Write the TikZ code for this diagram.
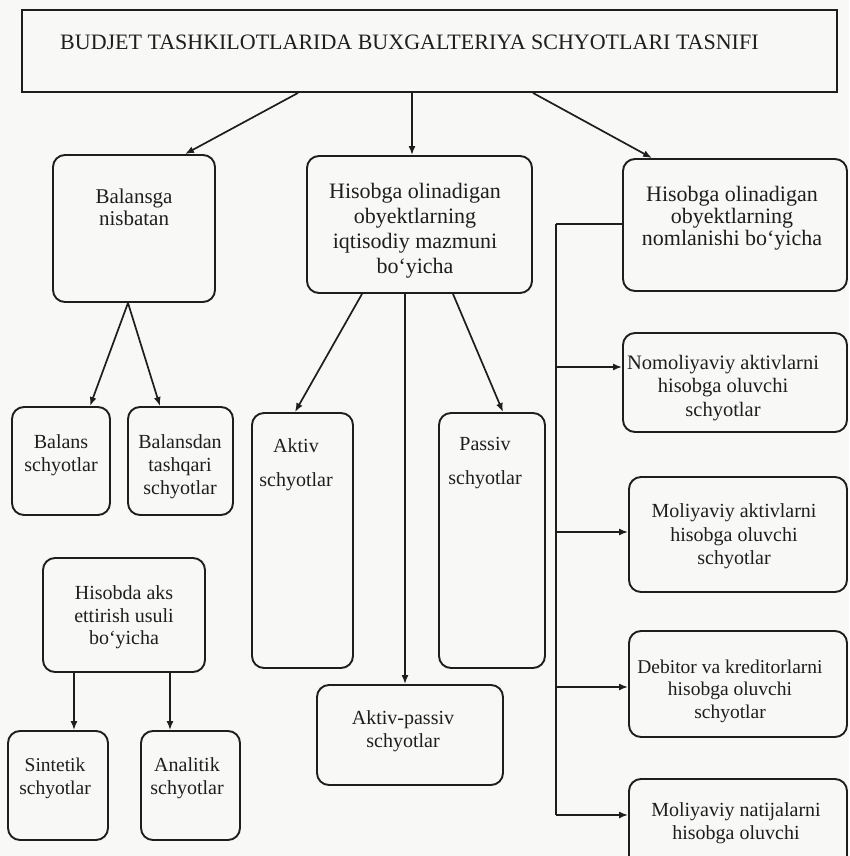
\documentclass[tikz,border=0pt]{standalone}
\usepackage{fontspec}
\setmainfont{Liberation Serif}
\usetikzlibrary{arrows.meta}

\definecolor{ink}{RGB}{30,30,30}
\definecolor{paper}{RGB}{248,248,247}

\tikzset{
  box/.style={draw=ink, line width=1.9pt, rounded corners=12pt, inner sep=0pt},
  lbl/.style={align=center, text=ink, inner sep=0pt},
  arr/.style={draw=ink, line width=1.7pt, -{Latex[length=9pt,width=7pt]}},
  wire/.style={draw=ink, line width=1.7pt},
}
\newcommand{\fs}[2]{\fontsize{#1}{#2}\selectfont}

\begin{document}
\begin{tikzpicture}[x=1pt,y=-1pt]
  \useasboundingbox (0,0) rectangle (849,856);
  \fill[paper] (0,0) rectangle (849,856);
  \clip (0,0) rectangle (849,856);

  % title frame
  \node[box, rounded corners=0pt, minimum width=815pt, minimum height=82pt] (T) at (429.5,51) {};
  \node[lbl, anchor=base west, font=\fs{22}{24}] (TT) at (60,50)
    {BUDJET TASHKILOTLARIDA BUXGALTERIYA SCHYOTLARI TASNIFI};

  % first level
  \node[box, minimum width=162pt, minimum height=147pt] (Bal) at (134,228.5) {};
  \node[lbl, font=\fs{21}{22}] (BalT) at (134,207.5) {Balansga\\nisbatan};

  \node[box, minimum width=225pt, minimum height=137pt] (Mid) at (419.5,224.5) {};
  \node[lbl, font=\fs{22}{25}] (MidT) at (415,230.5)
    {Hisobga olinadigan\\obyektlarning\\iqtisodiy mazmuni\\bo‘yicha};

  \node[box, minimum width=224pt, minimum height=132pt] (Right) at (735,225) {};
  \node[lbl, font=\fs{22}{22}] (RightT) at (732,218.5)
    {Hisobga olinadigan\\obyektlarning\\nomlanishi bo‘yicha};

  % balance branch
  \node[box, minimum width=98pt, minimum height=108pt] (Balans) at (61,461) {};
  \node[lbl, font=\fs{20}{23}] (BalansT) at (61,455) {Balans\\schyotlar};

  \node[box, minimum width=105pt, minimum height=108pt] (Balansdan) at (180.5,461) {};
  \node[lbl, font=\fs{20}{23}] (BalansdanT) at (180,467) {Balansdan\\tashqari\\schyotlar};

  % economic content branch
  \node[box, minimum width=101pt, minimum height=255pt] (Aktiv) at (302.5,540.5) {};
  \node[lbl, font=\fs{20}{34}] (AktivT) at (296,465) {Aktiv\\schyotlar};

  \node[box, minimum width=106pt, minimum height=255pt] (Passiv) at (492,540.5) {};
  \node[lbl, font=\fs{20}{34}] (PassivT) at (485,463.5) {Passiv\\schyotlar};

  \node[box, minimum width=186pt, minimum height=100pt] (AP) at (410,735) {};
  \node[lbl, font=\fs{20}{23}] (APT) at (403,731.5) {Aktiv-passiv\\schyotlar};

  % reflection method branch
  \node[box, minimum width=162pt, minimum height=114pt] (Hisobda) at (124,615) {};
  \node[lbl, font=\fs{20}{22.5}] (HisobdaT) at (124,617.5) {Hisobda aks\\ettirish usuli\\bo‘yicha};

  \node[box, minimum width=100pt, minimum height=109pt] (Sint) at (58,785.5) {};
  \node[lbl, font=\fs{19.5}{23}] (SintT) at (55,778.5) {Sintetik\\schyotlar};

  \node[box, minimum width=99pt, minimum height=109pt] (Anal) at (190.5,785.5) {};
  \node[lbl, font=\fs{20}{23}] (AnalT) at (187,778.5) {Analitik\\schyotlar};

  % naming branch
  \node[box, minimum width=224pt, minimum height=99pt] (Nom) at (735,382.5) {};
  \node[lbl, font=\fs{20.5}{23.5}] (NomT) at (723,388)
    {Nomoliyaviy aktivlarni\\hisobga oluvchi\\schyotlar};

  \node[box, minimum width=218pt, minimum height=115pt] (Mol) at (738,534.5) {};
  \node[lbl, font=\fs{20}{23.5}] (MolT) at (734,536.5)
    {Moliyaviy aktivlarni\\hisobga oluvchi\\schyotlar};

  \node[box, minimum width=218pt, minimum height=106pt] (Deb) at (738,684) {};
  \node[lbl, font=\fs{19.5}{22.5}] (DebT) at (730,691)
    {Debitor va kreditorlarni\\hisobga oluvchi\\schyotlar};

  \node[box, minimum width=218pt, minimum height=101pt] (Nat) at (738,829.5) {};
  \node[lbl, font=\fs{20}{23}] (NatT) at (736,823.5)
    {Moliyaviy natijalarni\\hisobga oluvchi};

  % connectors from the title
  \draw[arr] ([xshift=-131.5pt]T.south) -- ([xshift=51pt]Bal.north);
  \draw[arr] ([xshift=-17.5pt]T.south) -- ([xshift=-7.5pt]Mid.north);
  \draw[arr] ([xshift=103.5pt]T.south) -- ([xshift=-83pt]Right.north);

  % balance branch connectors
  \draw[arr] ([xshift=-6pt]Bal.south) -- ([xshift=29pt]Balans.north);
  \draw[arr] ([xshift=-6pt]Bal.south) -- ([xshift=-20.5pt]Balansdan.north);

  % economic content connectors
  \draw[arr] ([xshift=-57.5pt]Mid.south) -- ([xshift=-7.5pt]Aktiv.north);
  \draw[arr] ([xshift=33.5pt]Mid.south) -- ([xshift=11pt]Passiv.north);
  \draw[arr] ([xshift=-14.5pt]Mid.south) -- ([xshift=-5pt]AP.north);

  % reflection method connectors
  \draw[arr] ([xshift=-50pt]Hisobda.south) -- ([xshift=16pt]Sint.north);
  \draw[arr] ([xshift=46pt]Hisobda.south) -- ([xshift=-20.5pt]Anal.north);

  % naming bus
  \coordinate (bus) at (556,224);
  \coordinate (nomIn) at ([yshift=15.5pt]Nom.west);
  \coordinate (molIn) at ([yshift=2.5pt]Mol.west);
  \coordinate (debIn) at ([yshift=-3pt]Deb.west);
  \coordinate (natIn) at ([yshift=14.5pt]Nat.west);
  \draw[wire] (bus) -- (bus -| Right.west);
  \draw[wire] (bus) -- (bus |- natIn);
  \draw[arr] (bus |- nomIn) -- (nomIn);
  \draw[arr] (bus |- molIn) -- (molIn);
  \draw[arr] (bus |- debIn) -- (debIn);
  \draw[arr] (bus |- natIn) -- (natIn);
\end{tikzpicture}
\end{document}
